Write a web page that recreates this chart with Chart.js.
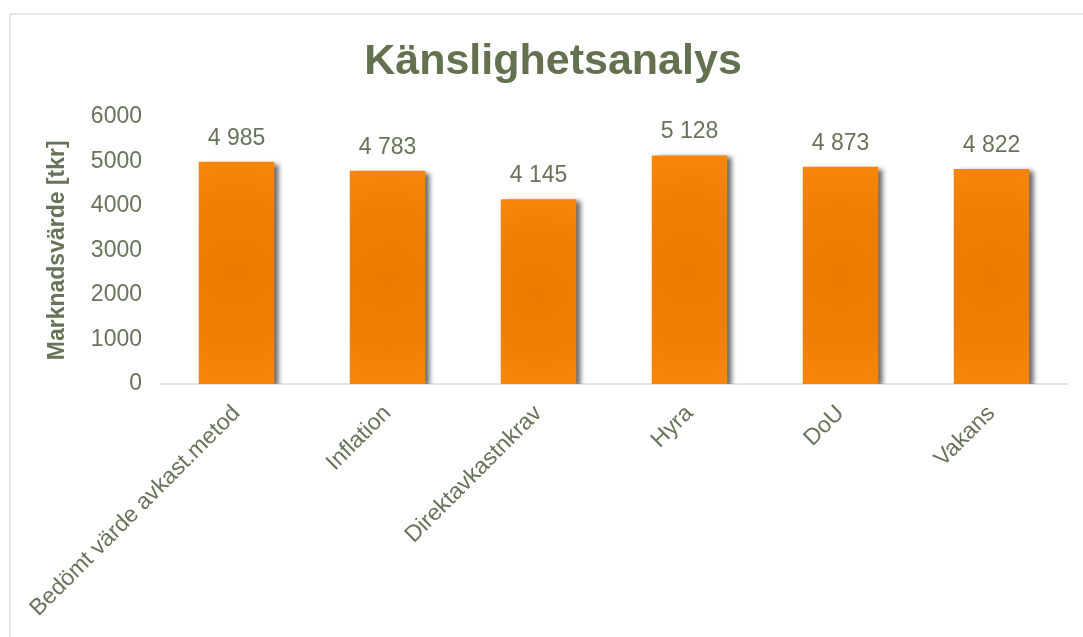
<!DOCTYPE html>
<html lang="sv">
<head>
<meta charset="utf-8">
<title>Känslighetsanalys</title>
<script src="https://cdn.jsdelivr.net/npm/chart.js@4/dist/chart.umd.min.js"></script>
<style>
    html, body {
        margin: 0;
        padding: 0;
        background: #ffffff;
        overflow: hidden;
    }
    #chart-frame {
        position: absolute;
        left: 9px;
        top: 13px;
        width: 1084px;
        height: 640px;
        border: 2px solid #e6e6e2;
    }
</style>
</head>
<body>
<div id="chart-frame">
    <canvas id="sensitivity-chart"></canvas>
</div>
<script>
// Chart data
const categories = ['Bedömt värde avkast.metod', 'Inflation', 'Direktavkastnkrav', 'Hyra', 'DoU', 'Vakans'];
const marketValues = [4985, 4783, 4145, 5128, 4873, 4822];
const yTicks = [0, 1000, 2000, 3000, 4000, 5000, 6000];

const TEXT_COLOR = '#67745a';
const TITLE_COLOR = '#64714f';
const FONT = "'Liberation Sans', Arial, sans-serif";

/**
 * Format a number with space as thousands separator, e.g. 4985 -> "4 985"
 */
function formatValue(v) {
    return String(v).replace(/\B(?=(\d{3})+(?!\d))/g, ' ');
}

/**
 * Radial gradient per bar, darker in the middle like the original
 */
function barFill(context) {
    const chart = context.chart;
    if (!chart.chartArea || context.type !== 'data') return '#f08000';
    const xScale = chart.scales.x;
    const yScale = chart.scales.y;
    const cx = xScale.getPixelForValue(context.dataIndex);
    const top = yScale.getPixelForValue(context.raw);
    const bottom = yScale.getPixelForValue(0);
    const cy = (top + bottom) / 2;
    const r = (bottom - top) / 2;
    const g = chart.ctx.createRadialGradient(cx, cy, 0, cx, cy, r);
    g.addColorStop(0, '#eb7b00');
    g.addColorStop(0.6, '#ef7f02');
    g.addColorStop(1, '#f6860a');
    return g;
}

// Drop shadow behind the bars
const barShadow = {
    id: 'barShadow',
    beforeDatasetsDraw(chart) {
        const ctx = chart.ctx;
        ctx.save();
        ctx.shadowColor = 'rgba(0, 0, 0, 0.6)';
        ctx.shadowOffsetX = 5;
        ctx.shadowOffsetY = 2;
        ctx.shadowBlur = 5;
    },
    afterDatasetsDraw(chart) {
        chart.ctx.restore();
    }
};

// Value labels above each bar
const valueLabels = {
    id: 'valueLabels',
    afterDatasetsDraw(chart) {
        const ctx = chart.ctx;
        const meta = chart.getDatasetMeta(0);
        ctx.save();
        ctx.font = '23px ' + FONT;
        ctx.fillStyle = TEXT_COLOR;
        ctx.textAlign = 'center';
        ctx.textBaseline = 'alphabetic';
        meta.data.forEach((bar, i) => {
            ctx.fillText(formatValue(marketValues[i]), bar.x, bar.y - 17);
        });
        ctx.restore();
    }
};

const ctx = document.getElementById('sensitivity-chart');

new Chart(ctx, {
    type: 'bar',
    data: {
        labels: categories,
        datasets: [{
            data: marketValues,
            backgroundColor: barFill,
            borderWidth: 0,
            barPercentage: 0.5,
            categoryPercentage: 1.0
        }]
    },
    options: {
        responsive: true,
        maintainAspectRatio: false,
        animation: false,
        layout: {
            // equal side padding keeps the title centred on the frame
            padding: { left: 28, right: 28, top: 0, bottom: 0 }
        },
        plugins: {
            legend: { display: false },
            tooltip: { enabled: false },
            title: {
                display: true,
                text: 'Känslighetsanalys',
                color: TITLE_COLOR,
                font: { family: FONT, size: 43, weight: 'bold' },
                padding: { top: 21, bottom: 29 }
            }
        },
        scales: {
            x: {
                grid: { display: false },
                border: { display: true, color: '#e4e4e0', width: 2 },
                ticks: {
                    color: TEXT_COLOR,
                    font: { family: FONT, size: 23 },
                    minRotation: 45,
                    maxRotation: 45,
                    padding: 8,
                    autoSkip: false
                },
                afterFit(axis) {
                    axis.height = axis.chart.height - 369;
                }
            },
            y: {
                min: 0,
                max: 6000,
                afterBuildTicks(axis) {
                    axis.ticks = yTicks.map(v => ({ value: v }));
                },
                grid: { display: false },
                border: { display: false },
                ticks: {
                    color: TEXT_COLOR,
                    font: { family: FONT, size: 23 },
                    padding: 11,
                    callback: v => String(v)
                },
                title: {
                    display: true,
                    text: 'Marknadsvärde [tkr]',
                    color: TEXT_COLOR,
                    font: { family: FONT, size: 23, weight: 'bold' },
                    padding: { top: 5, bottom: 0 }
                },
                afterFit(axis) {
                    axis.width = 122;
                }
            }
        }
    },
    plugins: [barShadow, valueLabels]
});
</script>
</body>
</html>
